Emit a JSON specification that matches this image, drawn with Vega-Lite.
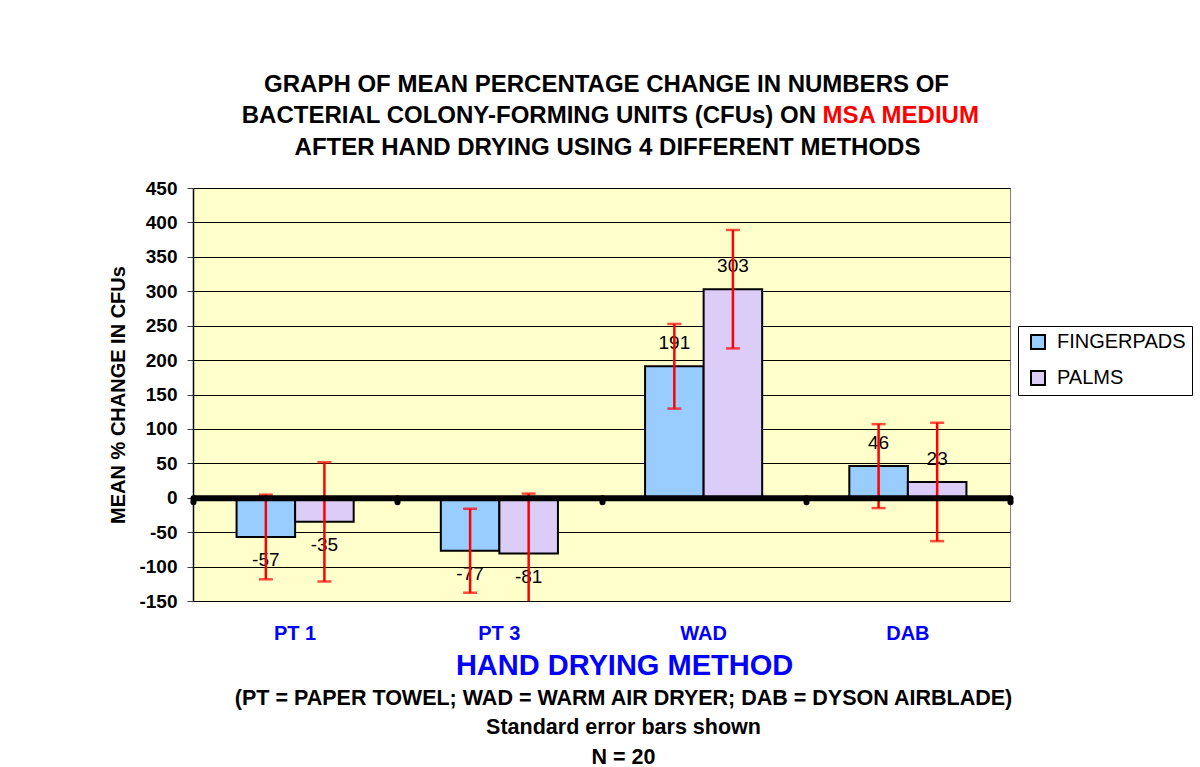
{
  "$schema": "https://vega.github.io/schema/vega-lite/v6.json",
  "width": 817,
  "height": 413,
  "autosize": {"type": "none"},
  "padding": {"left": 193, "top": 188, "right": 190, "bottom": 166},
  "background": "white",
  "data": {
    "values": [
      {"method": "PT 1", "part": "FINGERPADS", "value": -57, "lo": -118.5, "hi": 4.5},
      {"method": "PT 1", "part": "PALMS", "value": -35, "lo": -121.5, "hi": 51.5},
      {"method": "PT 3", "part": "FINGERPADS", "value": -77, "lo": -138, "hi": -16},
      {"method": "PT 3", "part": "PALMS", "value": -81, "lo": -168, "hi": 6},
      {"method": "WAD", "part": "FINGERPADS", "value": 191, "lo": 129.5, "hi": 252.5},
      {"method": "WAD", "part": "PALMS", "value": 303, "lo": 217, "hi": 389},
      {"method": "DAB", "part": "FINGERPADS", "value": 46, "lo": -15, "hi": 107},
      {"method": "DAB", "part": "PALMS", "value": 23, "lo": -63, "hi": 109}
    ]
  },
  "layer": [
    {
      "mark": {"type": "bar", "stroke": "black", "strokeWidth": 2},
      "encoding": {
        "x": {
          "field": "method", "type": "nominal", "sort": ["PT 1", "PT 3", "WAD", "DAB"],
          "scale": {"paddingInner": 0, "paddingOuter": 0},
          "axis": {
            "orient": "bottom", "offset": -103.25, "domain": true, "domainColor": "black", "domainWidth": 6,
            "ticks": true, "tickBand": "extent", "tickColor": "black", "tickWidth": 6, "tickSize": 4, "tickCap": "round",
            "labels": false, "title": null, "grid": false, "zindex": 1
          }
        },
        "xOffset": {"field": "part", "type": "nominal", "sort": ["FINGERPADS", "PALMS"], "scale": {"paddingInner": 0, "paddingOuter": 0.744}},
        "y": {
          "field": "value", "type": "quantitative", "title": "MEAN % CHANGE IN CFUs",
          "scale": {"domain": [-150, 450], "nice": false},
          "axis": {
            "orient": "left", "values": [-150, -100, -50, 0, 50, 100, 150, 200, 250, 300, 350, 400, 450],
            "tickCount": 20,
            "labelExpr": "'' + datum.value", "labelOverlap": false,
            "labelFont": "Liberation Sans", "labelFontSize": 19, "labelFontWeight": "bold", "labelColor": "black", "labelPadding": 10,
            "ticks": true, "tickSize": 6, "tickColor": "#404040", "tickWidth": 1,
            "domain": true, "domainColor": "black", "domainWidth": 1.5,
            "grid": true, "gridColor": "black", "gridWidth": 1, "gridOpacity": 1,
            "titleFont": "Liberation Sans", "titleFontSize": 20, "titleFontWeight": "bold", "titleColor": "black",
            "titleX": -75, "titleY": 206.5, "titleAngle": -90, "titleAlign": "center", "titleBaseline": "middle"
          }
        },
        "color": {
          "field": "part", "type": "nominal",
          "scale": {"domain": ["FINGERPADS", "PALMS"], "range": ["#99CCFF", "#DCCCF8"]},
          "legend": {
            "title": null, "orient": "none", "legendX": 825, "legendY": 138,
            "strokeColor": "black", "fillColor": "white", "padding": 6,
            "symbolType": "square", "symbolSize": 196, "symbolStrokeColor": "black", "symbolStrokeWidth": 2, "symbolOffset": 4,
            "labelFont": "Liberation Sans", "labelFontSize": 20, "labelColor": "black", "labelOffset": 9, "rowPadding": 14
          }
        }
      }
    },
    {
      "transform": [{"filter": "datum.value >= 0 && datum.part == 'FINGERPADS'"}],
      "mark": {"type": "text", "baseline": "middle", "align": "center", "dy": -23, "fontSize": 19, "font": "Liberation Sans", "color": "black"},
      "encoding": {
        "x": {
          "field": "method", "type": "nominal", "sort": ["PT 1", "PT 3", "WAD", "DAB"],
          "scale": {"paddingInner": 0, "paddingOuter": 0},
          "axis": {
            "orient": "bottom", "domain": false, "ticks": false, "grid": false,
            "labels": true, "labelAngle": 0, "labelColor": "#0000FF", "labelFont": "Liberation Sans", "labelFontWeight": "bold", "labelFontSize": 20, "labelPadding": 22,
            "title": "HAND DRYING METHOD", "titleColor": "#0000FF", "titleFont": "Liberation Sans", "titleFontSize": 29, "titleFontWeight": "bold",
            "titleX": 431, "titleY": 64, "titleAlign": "center", "titleBaseline": "middle"
          }
        },
        "xOffset": {"field": "part", "type": "nominal", "sort": ["FINGERPADS", "PALMS"]},
        "y": {"field": "value", "type": "quantitative", "title": "MEAN % CHANGE IN CFUs"},
        "text": {"field": "value", "type": "nominal"}
      }
    },
    {
      "transform": [{"filter": "datum.value >= 0 && datum.part == 'PALMS'"}],
      "mark": {"type": "text", "baseline": "middle", "align": "center", "dy": -23, "fontSize": 19, "font": "Liberation Sans", "color": "black"},
      "encoding": {
        "x": {
          "field": "method", "type": "nominal", "sort": ["PT 1", "PT 3", "WAD", "DAB"],
          "scale": {"paddingInner": 0, "paddingOuter": 0},
          "axis": {
            "orient": "top", "domain": false, "ticks": false, "labels": false, "grid": false,
            "title": "AFTER HAND DRYING USING 4 DIFFERENT METHODS",
            "titleColor": "black", "titleFont": "Liberation Sans", "titleFontSize": 24, "titleFontWeight": "bold",
            "titleX": 414, "titleY": -41, "titleAlign": "center", "titleBaseline": "middle"
          }
        },
        "xOffset": {"field": "part", "type": "nominal", "sort": ["FINGERPADS", "PALMS"]},
        "y": {"field": "value", "type": "quantitative", "title": "MEAN % CHANGE IN CFUs"},
        "text": {"field": "value", "type": "nominal"}
      }
    },
    {
      "transform": [{"filter": "datum.value < 0"}],
      "mark": {"type": "text", "baseline": "middle", "align": "center", "dy": 23, "fontSize": 19, "font": "Liberation Sans", "color": "black"},
      "encoding": {
        "x": {
          "field": "method", "type": "nominal", "sort": ["PT 1", "PT 3", "WAD", "DAB"],
          "scale": {"paddingInner": 0, "paddingOuter": 0},
          "axis": {
            "orient": "bottom", "domain": false, "ticks": false, "labels": false, "grid": false,
            "title": ["(PT = PAPER TOWEL; WAD = WARM AIR DRYER; DAB = DYSON AIRBLADE)", "Standard error bars shown", "N = 20"],
            "titleColor": "black", "titleFont": "Liberation Sans", "titleFontSize": 21.5, "titleFontWeight": "bold", "titleLineHeight": 29.5,
            "titleX": 430, "titleY": 97, "titleAlign": "center", "titleBaseline": "middle"
          }
        },
        "xOffset": {"field": "part", "type": "nominal", "sort": ["FINGERPADS", "PALMS"]},
        "y": {"field": "value", "type": "quantitative", "title": "MEAN % CHANGE IN CFUs"},
        "text": {"field": "value", "type": "nominal"}
      }
    },
    {
      "mark": {"type": "rule", "color": "#FF0000", "strokeWidth": 2.5, "clip": true},
      "encoding": {
        "x": {
          "field": "method", "type": "nominal", "sort": ["PT 1", "PT 3", "WAD", "DAB"],
          "scale": {"paddingInner": 0, "paddingOuter": 0},
          "axis": {
            "orient": "top", "domain": false, "ticks": false, "labels": false, "grid": false,
            "title": "GRAPH OF MEAN PERCENTAGE CHANGE IN NUMBERS OF",
            "titleColor": "black", "titleFont": "Liberation Sans", "titleFontSize": 24, "titleFontWeight": "bold",
            "titleX": 413, "titleY": -104, "titleAlign": "center", "titleBaseline": "middle"
          }
        },
        "xOffset": {"field": "part", "type": "nominal", "sort": ["FINGERPADS", "PALMS"]},
        "y": {"field": "lo", "type": "quantitative", "title": "MEAN % CHANGE IN CFUs"},
        "y2": {"field": "hi"}
      }
    },
    {
      "mark": {"type": "tick", "orient": "horizontal", "color": "#FF0000", "size": 14, "thickness": 2.5, "clip": true},
      "encoding": {
        "x": {
          "field": "method", "type": "nominal", "sort": ["PT 1", "PT 3", "WAD", "DAB"],
          "scale": {"paddingInner": 0, "paddingOuter": 0},
          "axis": {
            "orient": "top", "domain": false, "ticks": false, "labels": false, "grid": false,
            "title": "BACTERIAL COLONY-FORMING UNITS (CFUs) ON",
            "titleColor": "black", "titleFont": "Liberation Sans", "titleFontSize": 24, "titleFontWeight": "bold",
            "titleX": 622.5, "titleY": -72.5, "titleAlign": "right", "titleBaseline": "middle"
          }
        },
        "xOffset": {"field": "part", "type": "nominal", "sort": ["FINGERPADS", "PALMS"]},
        "y": {"field": "hi", "type": "quantitative", "title": "MEAN % CHANGE IN CFUs"}
      }
    },
    {
      "mark": {"type": "tick", "orient": "horizontal", "color": "#FF0000", "size": 14, "thickness": 2.5, "clip": true},
      "encoding": {
        "x": {
          "field": "method", "type": "nominal", "sort": ["PT 1", "PT 3", "WAD", "DAB"],
          "scale": {"paddingInner": 0, "paddingOuter": 0},
          "axis": {
            "orient": "top", "domain": false, "ticks": false, "labels": false, "grid": false,
            "title": "MSA MEDIUM",
            "titleColor": "#FF0000", "titleFont": "Liberation Sans", "titleFontSize": 24, "titleFontWeight": "bold",
            "titleX": 629, "titleY": -72.5, "titleAlign": "left", "titleBaseline": "middle"
          }
        },
        "xOffset": {"field": "part", "type": "nominal", "sort": ["FINGERPADS", "PALMS"]},
        "y": {"field": "lo", "type": "quantitative", "title": "MEAN % CHANGE IN CFUs"}
      }
    }
  ],
  "resolve": {"axis": {"x": "independent"}},
  "config": {
    "font": "Liberation Sans",
    "view": {"fill": "#FFFFCC", "stroke": "#808080", "strokeWidth": 1}
  }
}
